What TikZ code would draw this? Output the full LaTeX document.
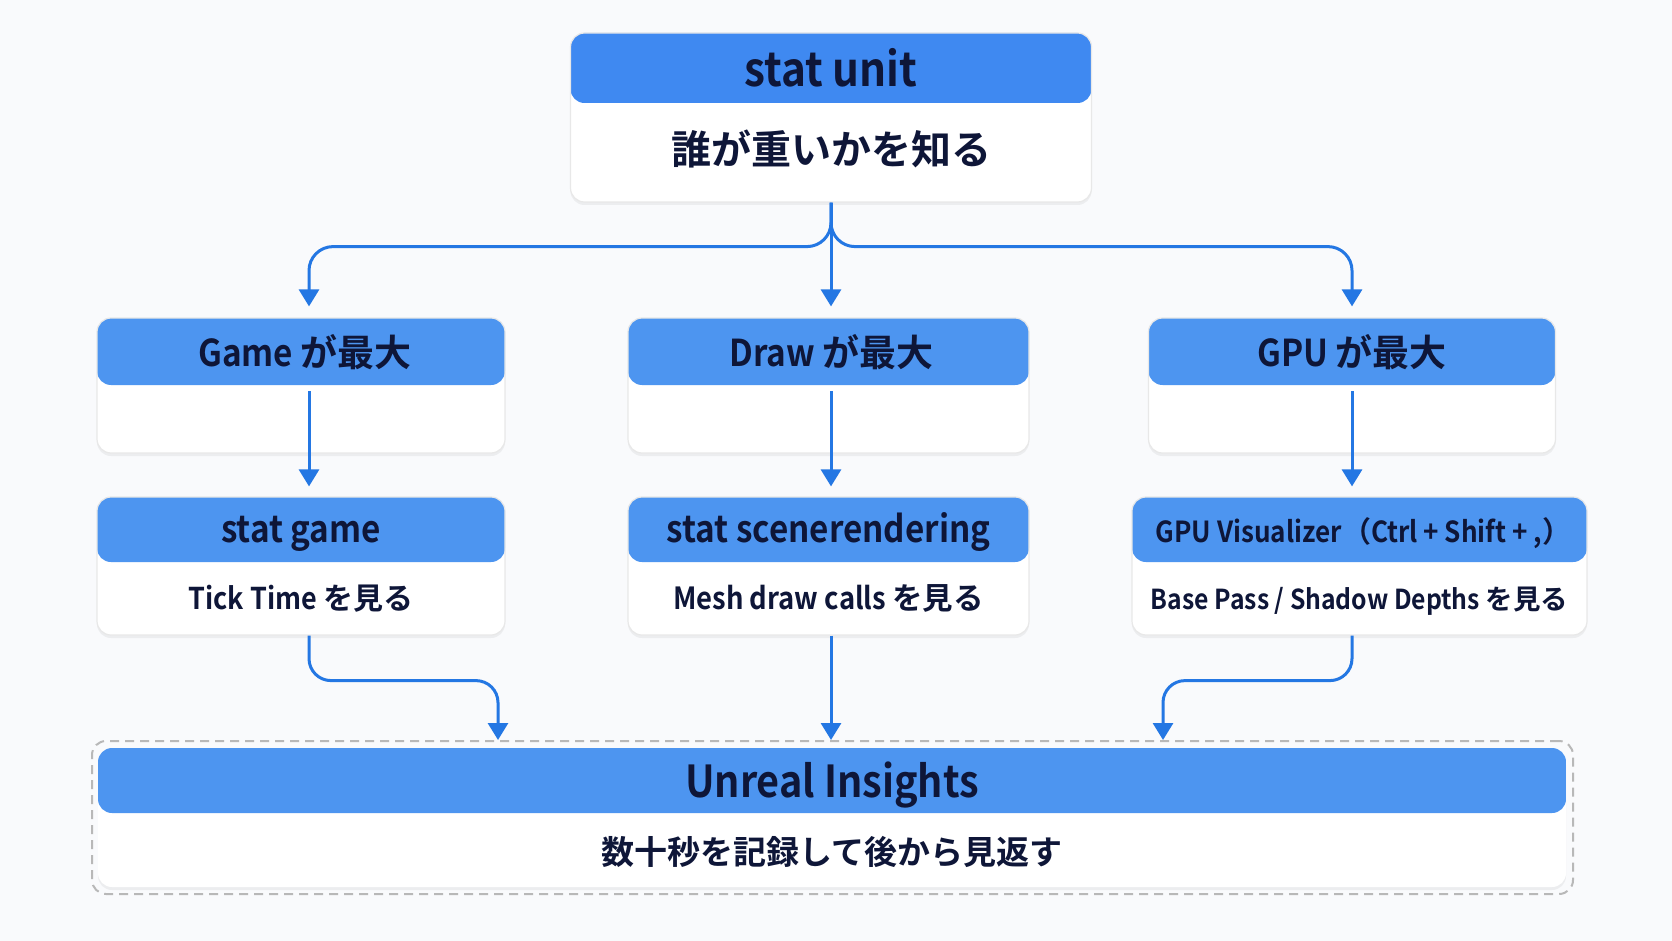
\documentclass[tikz,border=0pt]{standalone}
\usepackage{fontspec}
\setmainfont{Noto Sans CJK JP}[BoldFont={Noto Sans CJK JP Bold}, FakeStretch=0.9]
\newfontfamily\jpfont{Noto Sans CJK JP}[BoldFont={Noto Sans CJK JP Bold}]
\newcommand{\jp}[1]{{\jpfont\bfseries #1}}
\usetikzlibrary{arrows.meta,shadows}

\definecolor{headblue}{HTML}{4D95F0}
\definecolor{topblue}{HTML}{3F89F1}
\definecolor{linkblue}{HTML}{2477E3}
\definecolor{inkblue}{HTML}{0E1638}
\definecolor{pagebg}{HTML}{F9FAFC}

\tikzset{
  card/.style 2 args={fill=white, draw=black!9, line width=1.2pt, rounded corners=14pt,
    drop shadow={opacity=0.10, shadow xshift=0pt, shadow yshift=-3pt},
    path picture={\fill[#2] ([yshift=2pt]path picture bounding box.north west)
      rectangle ([yshift=-#1]path picture bounding box.north east);}},
  txt/.style={anchor=base, text=inkblue, inner sep=0pt, font=\bfseries\fontsize{#1}{#1}\selectfont},
  link/.style={draw=linkblue, line width=3pt, -{Triangle[width=20pt,length=17pt]}},
  frame/.style={draw=black!28, line width=2pt, dash pattern=on 9pt off 6pt, rounded corners=14pt}
}

\begin{document}
\begin{tikzpicture}[x=1pt,y=-1pt]
% Page
\fill[pagebg] (0,0) rectangle (1672,941);
\useasboundingbox (0,0) rectangle (1672,941);

% Column lines
\coordinate (colL) at (309,0);
\coordinate (colM) at (831,0);
\coordinate (colR) at (1352,0);
\coordinate (inL) at (498,0);
\coordinate (inR) at (1163,0);

% stat unit
\node[card={70pt}{topblue}, minimum width=521pt, minimum height=169pt] (unit) at (831,117.5) {};
\node[txt=47pt] (unithd) at ([yshift=-54pt]unit.north) {stat unit};
\node[txt=40pt] (unitbd) at ([yshift=-132pt]unit.north) {\jp{誰が重いかを知る}};

% Middle row
\node[card={67pt}{headblue}, minimum width=408pt, minimum height=135pt] (game) at (301,385.5) {};
\node[txt=37pt] (gamehd) at ([yshift=-49pt,xshift=4pt]game.north) {Game \jp{が最大}};
\node[card={67pt}{headblue}, minimum width=401pt, minimum height=135pt] (drawmax) at (828.5,385.5) {};
\node[txt=37pt] (drawhd) at ([yshift=-49pt,xshift=3pt]drawmax.north) {Draw \jp{が最大}};
\node[card={67pt}{headblue}, minimum width=407pt, minimum height=135pt] (gpu) at (1352,385.5) {};
\node[txt=37pt] (gpuhd) at ([yshift=-49pt]gpu.north) {GPU \jp{が最大}};

% Tool row
\node[card={65pt}{headblue}, minimum width=408pt, minimum height=138pt] (statgame) at (301,566) {};
\node[txt=37pt] (statgamehd) at ([yshift=-46pt]statgame.north) {stat game};
\node[txt=30pt] (statgamebd) at ([yshift=-113pt]statgame.north) {Tick Time \jp{を見る}};
\node[card={65pt}{headblue}, minimum width=401pt, minimum height=138pt] (statscene) at (828.5,566) {};
\node[txt=37pt] (statscenehd) at ([yshift=-46pt]statscene.north) {stat scenerendering};
\node[txt=30.5pt] (statscenebd) at ([yshift=-113pt]statscene.north) {Mesh draw calls \jp{を見る}};
\node[card={65pt}{headblue}, minimum width=455pt, minimum height=138pt] (gpuvis) at (1359.5,566) {};
\node[txt=29pt] (gpuvishd) at ([yshift=-46pt,xshift=4pt]gpuvis.north) {GPU Visualizer\jp{（}Ctrl + Shift + ,\jp{）}};
\node[txt=27.5pt] (gpuvisbd) at ([yshift=-113pt]gpuvis.north) {Base Pass / Shadow Depths \jp{を見る}};

% Unreal Insights
\node[frame, minimum width=1481pt, minimum height=153pt] (frame) at (832.5,817.5) {};
\node[card={65pt}{headblue}, draw=none, minimum width=1468pt, minimum height=139pt] (insights) at (832,817.5) {};
\node[txt=44pt] (insightshd) at ([yshift=-50pt]insights.north) {Unreal Insights};
\node[txt=33pt] (insightsbd) at ([yshift=-117pt]insights.north) {\jp{数十秒を記録して後から見返す}};

% Split from stat unit
\draw[link, rounded corners=24pt] (unit.south) -- ++(0,44) -| ([yshift=11pt]colL |- game.north);
\draw[link, rounded corners=24pt] (unit.south) -- ++(0,44) -| ([yshift=11pt]colR |- gpu.north);
\draw[link] (unit.south) -- ([yshift=11pt]colM |- drawmax.north);

% Down to the tools
\draw[link] ([yshift=-74pt]colL |- game.north) -- ([yshift=10pt]colL |- statgame.north);
\draw[link] ([yshift=-74pt]colM |- drawmax.north) -- ([yshift=10pt]colM |- statscene.north);
\draw[link] ([yshift=-74pt]colR |- gpu.north) -- ([yshift=10pt]colR |- gpuvis.north);

% Into Unreal Insights
\draw[link, rounded corners=22pt] (colL |- statgame.south) -- ++(0,45) -| (inL |- frame.north);
\draw[link] (colM |- statscene.south) -- (colM |- frame.north);
\draw[link, rounded corners=22pt] (colR |- gpuvis.south) -- ++(0,45) -| (inR |- frame.north);
\end{tikzpicture}
\end{document}
